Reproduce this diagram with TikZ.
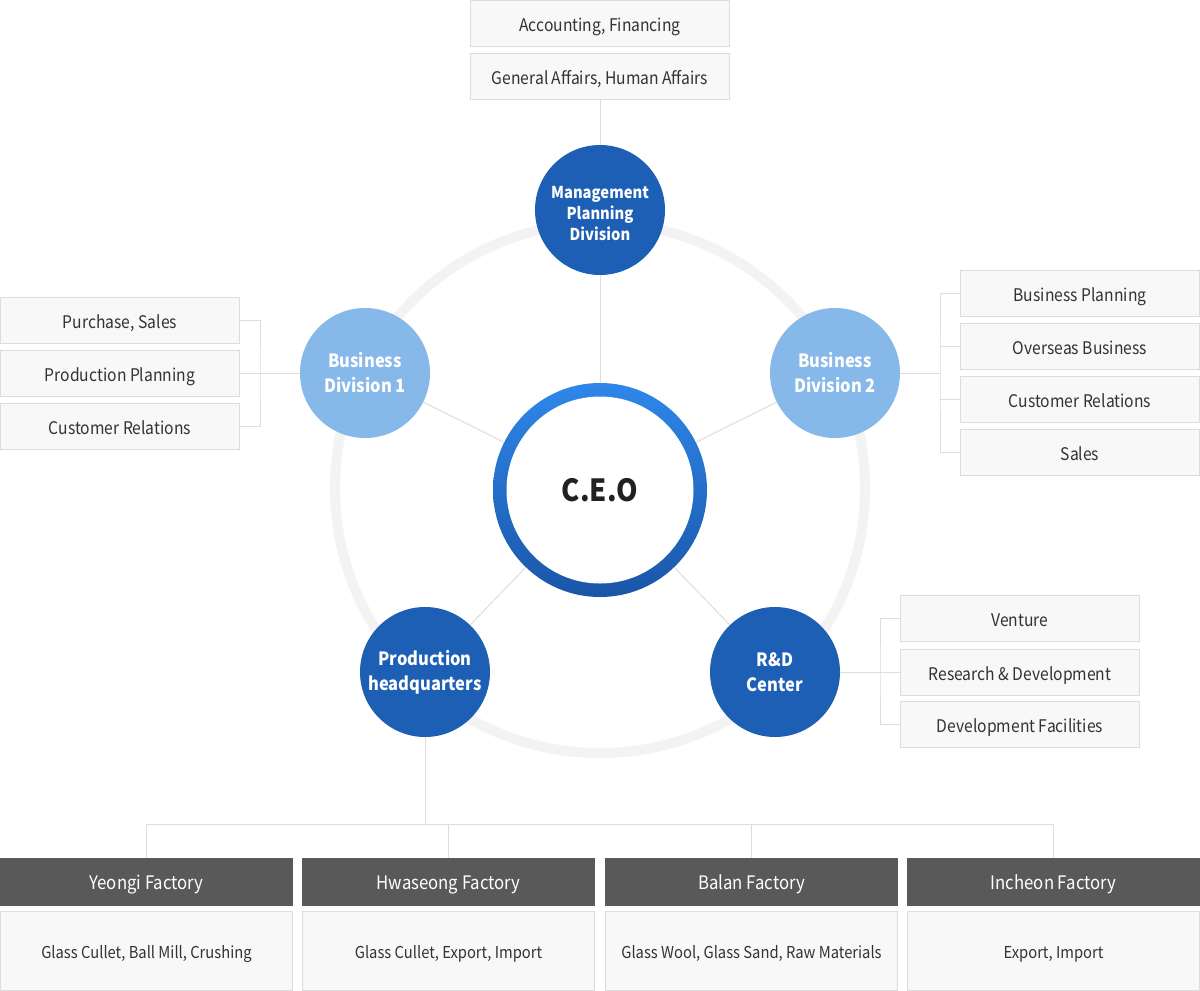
\documentclass[tikz,border=0pt]{standalone}
\usepackage{fontspec}
\setmainfont{Noto Sans CJK KR}[FakeStretch=0.9]
\definecolor{lineC}{HTML}{DDDDDD}
\definecolor{boxB}{HTML}{DCDCDC}
\definecolor{boxF}{HTML}{F8F8F8}
\definecolor{txt}{HTML}{333333}
\definecolor{darkB}{HTML}{1D5FB5}
\definecolor{lightB}{HTML}{86B8E9}
\definecolor{headC}{HTML}{595959}
\definecolor{ringC}{HTML}{F3F3F3}
\definecolor{ceoTop}{HTML}{2F87E9}
\definecolor{ceoBot}{HTML}{1A56A9}
\begin{document}
\begin{tikzpicture}[x=1pt,y=-1pt,
  conn/.style={draw=lineC, line width=1pt},
  subbox/.style={draw=boxB, fill=boxF, line width=1pt, minimum width=239pt, minimum height=46pt, inner sep=0pt, text height=16pt, text depth=0pt, font=\fontsize{17.4}{20}\selectfont, text=txt},
  darkc/.style={circle, fill=darkB, minimum size=130pt, inner sep=0pt, text=white, font=\bfseries\fontsize{18.3}{25}\selectfont, align=center},
  lightc/.style={darkc, fill=lightB},
  fhead/.style={fill=headC, minimum width=293pt, minimum height=48pt, inner sep=0pt, text height=14.6pt, text depth=0pt, text=white, font=\fontsize{18.6}{20}\selectfont},
  fbody/.style={draw=boxB, fill=boxF, line width=1pt, minimum width=292pt, minimum height=79pt, inner sep=0pt, text height=15.6pt, text depth=0pt, font=\fontsize{16.4}{19}\selectfont, text=txt},
]
\useasboundingbox (0,0) rectangle (1200,991);
\fill[white] (0,0) rectangle (1200,991);
% big ring
\draw[ringC, line width=10pt] (600,488) circle [radius=265pt];

% top boxes
\node[subbox, minimum width=259pt] (acc) at (600,23.5) {Accounting, Financing};
\node[subbox, minimum width=259pt] (gen) at (600,76.5) {General Affairs, Human Affairs};

% circles
\node[darkc, font=\bfseries\fontsize{16.4}{21}\selectfont] (mp) at (600,210) {\rule{0pt}{20pt}Management\\Planning\\Division};
\node[lightc] (bd1) at (365,373) {Business\\Division 1};
\node[lightc] (bd2) at (835,373) {Business\\Division 2};
\node[darkc] (hq) at (425,672) {Production\\headquarters};
\node[darkc] (rd) at (775,672) {R\&D\\Center};

% CEO
\node[circle, minimum size=214pt, inner sep=0pt, top color=ceoTop, bottom color=ceoBot] (ceo) at (600,490) {};
\node[circle, minimum size=187pt, inner sep=0pt, fill=white, text=black!87, font=\bfseries\fontsize{30.5}{31}\selectfont] (ceot) at (ceo) {C.E.O};

% ceo connectors
\draw[conn] (gen.south) -- (mp);
\draw[conn] (ceo) -- (mp);
\draw[conn] (ceo) -- (bd1);
\draw[conn] (ceo) -- (bd2);
\draw[conn] (ceo) -- (hq);
\draw[conn] (ceo) -- (rd);

% left boxes
\node[subbox] (ps) at (120,320) {Purchase, Sales};
\node[subbox] (pp) at (120,373) {Production Planning};
\node[subbox] (cr1) at (120,426) {Customer Relations};
\coordinate (lb) at (260,373);
\draw[conn] (ps.east) -| (lb) |- (cr1.east);
\draw[conn] (pp.east) -- (bd1.west);

% right boxes
\node[subbox] (bp) at (1080,293) {Business Planning};
\node[subbox] (ob) at (1080,346) {Overseas Business};
\node[subbox] (cr2) at (1080,399) {Customer Relations};
\node[subbox] (sa) at (1080,452) {Sales};
\coordinate (rb) at (940,373);
\draw[conn] (bp.west) -| (rb) |- (sa.west);
\draw[conn] (ob.west) -- (ob.west -| rb);
\draw[conn] (cr2.west) -- (cr2.west -| rb);
\draw[conn] (bd2.east) -- (rb);

% R&D boxes
\node[subbox] (ve) at (1020,618) {Venture};
\node[subbox] (rnd) at (1020,672) {Research \& Development};
\node[subbox] (df) at (1020,724) {Development Facilities};
\coordinate (rdb) at (880,672);
\draw[conn] (ve.west) -| (rdb) |- (df.west);
\draw[conn] (rd.east) -- (rnd.west);

% factories
\node[fhead] (f1) at (146.5,882) {Yeongi Factory};
\node[fhead] (f2) at (448.5,882) {Hwaseong Factory};
\node[fhead] (f3) at (751.5,882) {Balan Factory};
\node[fhead] (f4) at (1053.5,882) {Incheon Factory};
\node[fbody] (b1) at (146.5,950.5) {Glass Cullet, Ball Mill, Crushing};
\node[fbody] (b2) at (448.5,950.5) {Glass Cullet, Export, Import};
\node[fbody] (b3) at (751.5,950.5) {Glass Wool, Glass Sand, Raw Materials};
\node[fbody] (b4) at (1053.5,950.5) {Export, Import};

\coordinate (hb) at (425,824);
\draw[conn] (hq.south) -- (hb);
\draw[conn] (f1.north) -- (f1.north |- hb) -- (f4.north |- hb) -- (f4.north);
\draw[conn] (f2.north) -- (f2.north |- hb);
\draw[conn] (f3.north) -- (f3.north |- hb);
\end{tikzpicture}
\end{document}
